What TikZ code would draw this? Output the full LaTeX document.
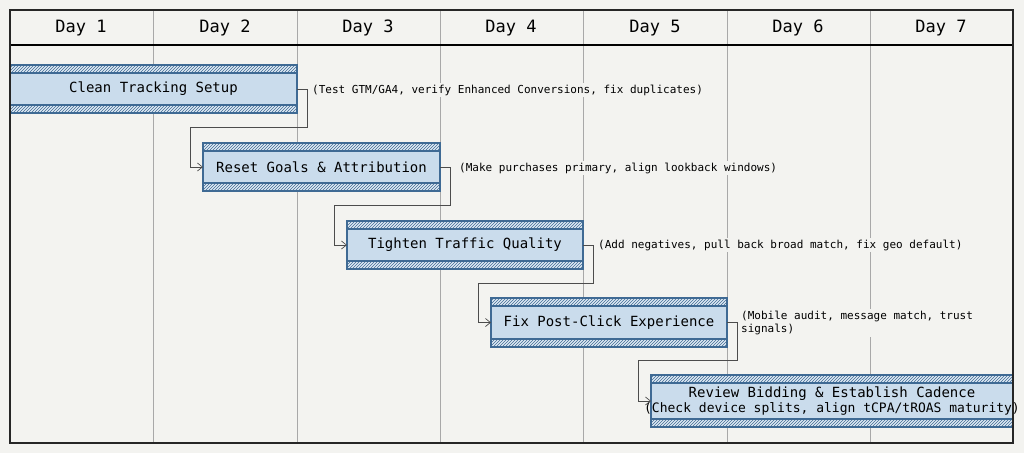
\documentclass[tikz,border=0pt]{standalone}
\usepackage{fontspec}
\setmonofont{DejaVu Sans Mono}
\usetikzlibrary{patterns,arrows.meta}
\definecolor{bg}{HTML}{F3F3F0}
\definecolor{barfill}{HTML}{CADCEC}
\definecolor{barline}{HTML}{3F6A94}
\definecolor{grid}{HTML}{A8A8A8}
\begin{document}
\begin{tikzpicture}[x=1pt,y=-1pt,
  hdr/.style={font=\ttfamily\fontsize{17}{20}\selectfont},
  bartxt/.style={font=\ttfamily\fontsize{14}{16}\selectfont,text=black},
  note/.style={font=\ttfamily\fontsize{11}{13}\selectfont,fill=bg,inner sep=2pt,anchor=west,align=left},
  conn/.style={draw=black!70,line width=0.7pt,-{Straight Barb[length=5pt,width=8pt]}}]
\fill[bg] (0,0) rectangle (1024,453);
\useasboundingbox (0,0) rectangle (1024,453);
% grid
\foreach \x in {153,297,440,583,727,870}{\draw[grid,line width=0.8pt] (\x,45) -- (\x,443);
  \draw[grid,line width=0.8pt] (\x,10) -- (\x,45);}
\draw[black,line width=2pt] (10,45) -- (1013,45);
\foreach \i/\x in {1/81,2/225,3/368,4/511,5/655,6/798,7/941}{\node[hdr] (h\i) at (\x,28) {Day \i};}
% bars
\newcommand{\ganttbar}[5]{% name x1 y1 x2 y2
  \fill[barfill] (#2,#3) rectangle (#4,#5);
  \fill[barfill!60] (#2,#3) rectangle (#4,#3+8);
  \fill[barfill!60] (#2,#5-8) rectangle (#4,#5);
  \fill[pattern=north east lines,pattern color=barline] (#2,#3) rectangle (#4,#3+8);
  \fill[pattern=north east lines,pattern color=barline] (#2,#5-8) rectangle (#4,#5);
  \draw[barline,line width=1.2pt] (#2,#3) rectangle (#4,#5);
  \draw[barline,line width=1.2pt] (#2,#3+8) -- (#4,#3+8) (#2,#5-8) -- (#4,#5-8);
  \coordinate (#1) at ({(#2+#4)/2},{(#3+#5)/2});
  \coordinate (#1e) at (#4,{(#3+#5)/2});
  \coordinate (#1w) at (#2,{(#3+#5)/2});}
\ganttbar{b1}{10}{65}{297}{113}
\ganttbar{b2}{203}{143}{440}{191}
\ganttbar{b3}{347}{221}{583}{269}
\ganttbar{b4}{491}{298}{727}{347}
\ganttbar{b5}{651}{375}{1013}{427}
\node[bartxt] (t1) at (b1) {Clean Tracking Setup};
\node[bartxt] (t2) at (b2) {Reset Goals \& Attribution};
\node[bartxt] (t3) at (b3) {Tighten Traffic Quality};
\node[bartxt] (t4) at (b4) {Fix Post-Click Experience};
\node[bartxt,align=center,font=\ttfamily\fontsize{13}{15}\selectfont] (t5) at (b5) {\fontsize{14}{16}\selectfont Review Bidding \& Establish Cadence\\(Check device splits, align tCPA/tROAS maturity)};
% notes
\node[note] (n1) at (310,90) {(Test GTM/GA4, verify Enhanced Conversions, fix duplicates)};
\node[note] (n2) at (457,168) {(Make purchases primary, align lookback windows)};
\node[note] (n3) at (596,245) {(Add negatives, pull back broad match, fix geo default)};
\node[note] (n4) at (739,323) {(Mobile audit, message match, trust\\signals)};
% connectors
\draw[conn] (b1e) -- ++(10,0) |- (190,127) |- (b2w);
\draw[conn] (b2e) -- ++(10,0) |- (334,205) |- (b3w);
\draw[conn] (b3e) -- ++(10,0) |- (478,283) |- (b4w);
\draw[conn] (b4e) -- ++(10,0) |- (638,360) |- (b5w);
\draw[black!85,line width=2pt] (10,10) rectangle (1013,443);
\end{tikzpicture}
\end{document}
